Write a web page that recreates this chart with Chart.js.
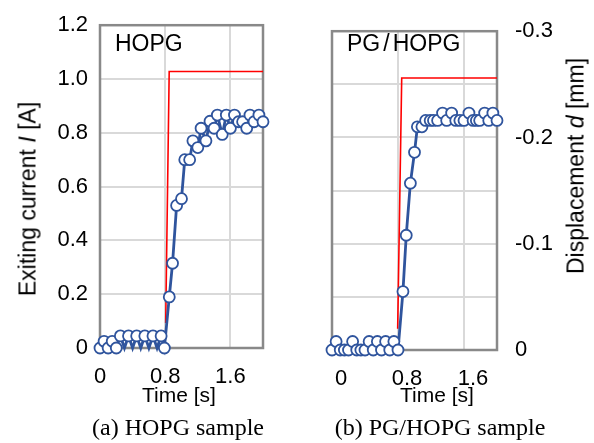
<!DOCTYPE html>
<html>
<head>
<meta charset="utf-8">
<script src="https://cdn.jsdelivr.net/npm/chart.js@4.4.1/dist/chart.umd.min.js"></script>
<style>
  body { margin: 0; background: #fff; }
  #wrap { position: relative; width: 594px; height: 443px; font-family: "Liberation Sans", Arial, sans-serif; color: #000; }
  canvas { position: absolute; top: 0; }
  .txt { position: absolute; white-space: nowrap; line-height: 1; }
  .ytitle { font-size: 23px; transform: translate(-50%, -50%) rotate(-90deg); }
  .xtitle { font-size: 21px; transform: translateX(-50%); }
  .panel { font-size: 23px; }
  .cap { font-family: "Liberation Serif", "Times New Roman", serif; font-size: 24px; transform: translateX(-50%); }
</style>
</head>
<body>
<div id="wrap">
  <canvas id="chartA" width="300" height="443" style="left:0"></canvas>
  <canvas id="chartB" width="294" height="443" style="left:300px"></canvas>

  <div class="txt ytitle" style="left:28px; top:199px">Exiting current <i>I</i> [A]</div>
  <div class="txt ytitle" style="left:576px; top:166px">Displacement <i>d</i> [mm]</div>
  <div class="txt panel" style="left:115px; top:32px">HOPG</div>
  <div class="txt panel" style="left:347px; top:32px">PG<span style="margin:0 3px">/</span>HOPG</div>
  <div class="txt xtitle" style="left:179px; top:384px">Time [s]</div>
  <div class="txt xtitle" style="left:437px; top:384px">Time [s]</div>
  <div class="txt cap" style="left:178px; top:415px">(a) HOPG sample</div>
  <div class="txt cap" style="left:440px; top:415px">(b) PG/HOPG sample</div>
</div>

<script>
// (a) HOPG: exciting current vs time
const timeA = [0, 0.05, 0.10, 0.15, 0.20, 0.25, 0.30, 0.35, 0.40, 0.45, 0.50, 0.55, 0.60, 0.65, 0.70, 0.75,
  0.79, 0.85, 0.89, 0.94, 1.00, 1.04, 1.10, 1.14, 1.20, 1.24, 1.30, 1.35, 1.40, 1.44, 1.50, 1.55,
  1.60, 1.65, 1.70, 1.75, 1.80, 1.84, 1.89, 1.95, 2.00];
const currentA = [0, 0.025, 0, 0.025, 0, 0.045, 0, 0.045, 0, 0.045, 0, 0.045, 0, 0.045, 0, 0.045,
  0, 0.19, 0.315, 0.53, 0.555, 0.70, 0.70, 0.77, 0.745, 0.817, 0.77, 0.843, 0.817, 0.866, 0.794, 0.866,
  0.817, 0.866, 0.841, 0.841, 0.817, 0.866, 0.841, 0.866, 0.841];
const noMarkA = [6, 8, 10, 12, 14];
const stepTimeA = [0.806, 0.849, 2.0];
const stepA = [0.093, 1.028, 1.028];

// (b) PG/HOPG: displacement vs time
const timeB = [0, 0.05, 0.10, 0.15, 0.20, 0.25, 0.30, 0.35, 0.40, 0.45, 0.50, 0.55, 0.60, 0.65, 0.70, 0.75,
  0.80, 0.86, 0.90, 0.95, 1.00, 1.035, 1.09, 1.135, 1.19, 1.23, 1.28, 1.34, 1.39, 1.45, 1.50, 1.55,
  1.60, 1.66, 1.71, 1.75, 1.79, 1.85, 1.90, 1.95, 2.00];
const dispB = [0, -0.008, 0, 0, 0, -0.008, 0, 0, 0, -0.008, 0, -0.008, 0, -0.008, 0, -0.008,
  0, -0.055, -0.108, -0.157, -0.186, -0.210, -0.210, -0.216, -0.216, -0.216, -0.216, -0.223, -0.216, -0.223, -0.216, -0.216,
  -0.216, -0.223, -0.216, -0.216, -0.216, -0.223, -0.216, -0.223, -0.216];
const stepTimeB = [0.796, 0.845, 2.0];
const stepB = [-0.020, -0.256, -0.256];

const xTicks = [0, 0.8, 1.6];
const xLabels = ['0', '0.8', '1.6'];
const yTicksA = [0, 0.2, 0.4, 0.6, 0.8, 1.0, 1.2];
const yLabelsA = ['0', '0.2', '0.4', '0.6', '0.8', '1.0', '1.2'];
const yTicksB = [0, -0.05, -0.1, -0.15, -0.2, -0.25, -0.3];
const yLabelsB = ['0', '', '-0.1', '', '-0.2', '', '-0.3'];

const BLUE = '#2f549d';
const RED = '#ff0000';
const GRID = '#d9d9d9';

const framePlugin = {
  id: 'frame',
  beforeDatasetsDraw(chart) {
    const { ctx, chartArea: a } = chart;
    ctx.save();
    ctx.strokeStyle = '#898989';
    ctx.lineWidth = 2.5;
    ctx.strokeRect(a.left, a.top, a.right - a.left, a.bottom - a.top);
    ctx.restore();
  }
};

function pts(xs, ys) {
  return xs.map((x, i) => ({ x: x, y: ys[i] }));
}

function blueSet(xs, ys, hidden) {
  return {
    data: pts(xs, ys),
    borderColor: BLUE,
    borderWidth: 2.8,
    pointRadius: c => hidden.includes(c.dataIndex) ? 0 : 5.5,
    pointBorderWidth: 1.8,
    pointBorderColor: BLUE,
    pointBackgroundColor: '#fff',
    tension: 0,
    clip: false
  };
}

function redSet(xs, ys) {
  return {
    data: pts(xs, ys),
    borderColor: RED,
    borderWidth: 1.6,
    pointRadius: 0,
    tension: 0,
    clip: false
  };
}

function xScale(height, offset) {
  return {
    type: 'linear',
    min: 0,
    max: 2.0,
    afterBuildTicks: s => { s.ticks = xTicks.map(v => ({ value: v })); },
    afterFit: s => { s.height = height; },
    ticks: {
      callback: (v, i) => xLabels[i],
      font: { family: 'Liberation Sans', size: 22 },
      color: '#000',
      padding: 16,
      labelOffset: offset,
      autoSkip: false,
      maxRotation: 0
    },
    grid: { color: GRID, lineWidth: 2, drawTicks: false },
    border: { display: false }
  };
}

new Chart(document.getElementById('chartA'), {
  type: 'line',
  data: { datasets: [blueSet(timeA, currentA, noMarkA), redSet(stepTimeA, stepA)] },
  options: {
    responsive: false,
    animation: false,
    layout: { padding: { left: 0, right: 37, top: 25, bottom: 0 } },
    plugins: { legend: { display: false }, tooltip: { enabled: false } },
    scales: {
      x: xScale(95, 0),
      y: {
        type: 'linear',
        min: 0,
        max: 1.2,
        afterBuildTicks: s => { s.ticks = yTicksA.map(v => ({ value: v })); },
        afterFit: s => { s.width = 100; },
        ticks: {
          callback: (v, i) => yLabelsA[i],
          font: { family: 'Liberation Sans', size: 22 },
          color: '#000',
          padding: 12,
          autoSkip: false
        },
        grid: { color: GRID, lineWidth: 2, drawTicks: false },
        border: { display: false }
      }
    }
  },
  plugins: [framePlugin]
});

new Chart(document.getElementById('chartB'), {
  type: 'line',
  data: { datasets: [blueSet(timeB, dispB, []), redSet(stepTimeB, stepB)] },
  options: {
    responsive: false,
    animation: false,
    layout: { padding: { left: 32, right: 0, top: 24, bottom: 0 } },
    plugins: { legend: { display: false }, tooltip: { enabled: false } },
    scales: {
      x: xScale(93, 9),
      y: {
        type: 'linear',
        position: 'right',
        reverse: true,
        min: -0.3,
        max: 0,
        afterBuildTicks: s => { s.ticks = yTicksB.map(v => ({ value: v })); },
        afterFit: s => { s.width = 97; },
        ticks: {
          callback: (v, i) => yLabelsB[i],
          font: { family: 'Liberation Sans', size: 22 },
          color: '#000',
          padding: 18,
          autoSkip: false
        },
        grid: { color: GRID, lineWidth: 2, drawTicks: false },
        border: { display: false }
      }
    }
  },
  plugins: [framePlugin]
});
</script>
</body>
</html>
